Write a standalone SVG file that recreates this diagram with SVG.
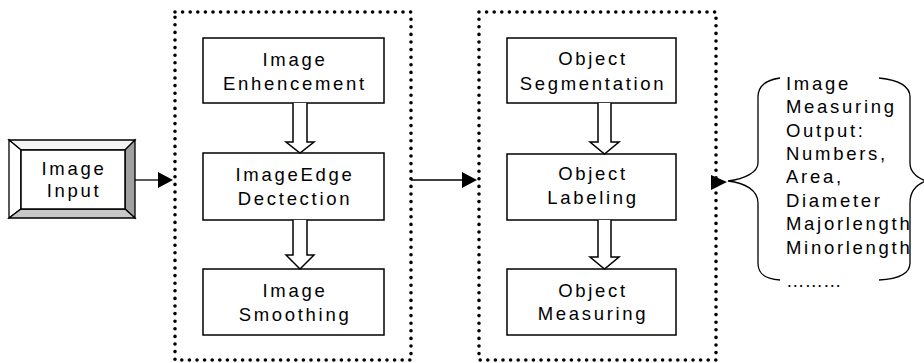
<svg xmlns="http://www.w3.org/2000/svg" width="924" height="363" viewBox="0 0 924 363">
<style>
text{font-family:"Liberation Sans",Arial,sans-serif;font-size:18.5px;letter-spacing:2.7px;fill:#000}
.c{text-anchor:middle}
.box{fill:#fff;stroke:#000;stroke-width:1.5}
.dot{fill:none;stroke:#000;stroke-width:3.6;stroke-linecap:round;stroke-dasharray:0 7.6}
.ha{fill:#fff;stroke:#000;stroke-width:1.5;stroke-linejoin:miter}
.ln{stroke:#000;stroke-width:1.3;fill:none}
</style>
<rect width="924" height="363" fill="#fff"/>
<g id="image-input">
<polygon points="9,140 135,140 125,150 21,150" fill="#f4f4f4" stroke="#000" stroke-width="1.3"/>
<polygon points="9,140 21,150 21,209 9,218" fill="#fff" stroke="#000" stroke-width="1.3"/>
<polygon points="135,140 135,218 125,209 125,150" fill="#a0a0a0" stroke="#000" stroke-width="1.3"/>
<polygon points="9,218 21,209 125,209 135,218" fill="#c8c8c8" stroke="#000" stroke-width="1.3"/>
<rect x="21" y="150" width="104" height="59" fill="#fff" stroke="#000" stroke-width="1.5"/>
<text class="c" x="74" y="175">Image</text>
<text class="c" x="74" y="197">Input</text>
</g>
<g id="group-preprocessing">
<rect class="dot" x="175" y="12" width="236" height="348"/>
</g>
<g id="group-measuring">
<rect class="dot" x="479" y="12" width="237" height="348"/>
</g>
<g id="image-enhencement">
<rect class="box" x="203" y="38" width="181" height="65"/>
<text class="c" x="295" y="66">Image</text>
<text class="c" x="295" y="90">Enhencement</text>
</g>
<g id="image-edge-detection">
<rect class="box" x="203" y="153" width="181" height="67"/>
<text class="c" x="295" y="181">ImageEdge</text>
<text class="c" x="295" y="205">Dectection</text>
</g>
<g id="image-smoothing">
<rect class="box" x="203" y="269" width="181" height="66"/>
<text class="c" x="295" y="297">Image</text>
<text class="c" x="295" y="321">Smoothing</text>
</g>
<g id="object-segmentation">
<rect class="box" x="507" y="38" width="169" height="65"/>
<text class="c" x="593" y="65">Object</text>
<text class="c" x="593" y="90">Segmentation</text>
</g>
<g id="object-labeling">
<rect class="box" x="507" y="154" width="169" height="66"/>
<text class="c" x="593" y="180">Object</text>
<text class="c" x="593" y="204">Labeling</text>
</g>
<g id="object-measuring">
<rect class="box" x="507" y="269" width="169" height="66"/>
<text class="c" x="593" y="297">Object</text>
<text class="c" x="593" y="320">Measuring</text>
</g>
<g id="output">
<path class="ln" d="M780,78 C765,80 758,86 758,97 L758,163 C758,172 745,179 728,181 C745,183 758,190 758,203 L758,263 C758,274 765,279 780,280"/>
<path class="ln" d="M879,78 C898,80 910,86 910,97 L910,163 C910,172 918,178 926,181 C918,184 910,190 910,203 L910,263 C910,274 898,279 879,280"/>
<text x="786" y="90">Image</text>
<text x="786" y="113">Measuring</text>
<text x="786" y="137">Output:</text>
<text x="786" y="160">Numbers,</text>
<text x="786" y="183">Area,</text>
<text x="786" y="207">Diameter</text>
<text x="786" y="230">Majorlength</text>
<text x="786" y="254">Minorlength</text>
<text x="786" y="287" style="letter-spacing:0">………</text>
</g>
<g id="connectors">
<line class="ln" x1="135" y1="180" x2="159" y2="180"/>
<polygon points="158,172 158,188 173,180" fill="#000"/>
<line class="ln" x1="411" y1="180" x2="464" y2="180"/>
<polygon points="462,172 462,188 477,180" fill="#000"/>
<polygon points="711,175 711,190 727,182" fill="#000"/>
<path class="ha" d="M293,103 L293,142 L286,142 L300,153 L314,142 L307,142 L307,103"/>
<path class="ha" d="M293,220 L293,255 L286,255 L300,269 L314,255 L307,255 L307,220"/>
<path class="ha" d="M598,103 L598,142 L590,142 L604.5,154 L619,142 L611,142 L611,103"/>
<path class="ha" d="M598,220 L598,257 L590,257 L604.5,269 L619,257 L611,257 L611,220"/>
</g>
</svg>
